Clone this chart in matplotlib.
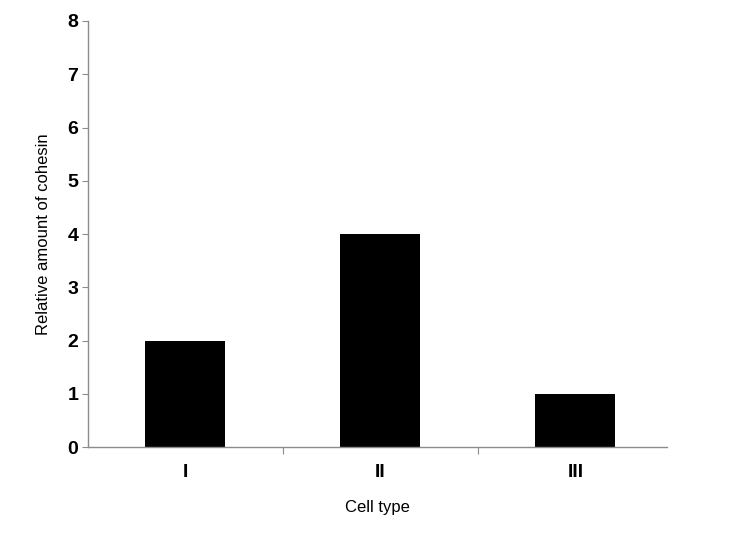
import numpy as np
import matplotlib
matplotlib.use("Agg")
import matplotlib.pyplot as plt

cell_types = ["I", "II", "III"]
cohesin = [2, 4, 1]
y_ticks = [0, 1, 2, 3, 4, 5, 6, 7, 8]

plt.rcParams['font.family'] = ['Liberation Sans', 'DejaVu Sans']

fig = plt.figure(figsize=(7.33, 5.38), dpi=100)
ax = fig.add_axes([0.12, 0.169, 0.79, 0.792])

x = np.arange(len(cell_types))
ax.bar(x, cohesin, width=0.41, color='black')

ax.set_xlim(-0.5, 2.47)
ax.set_ylim(0, 8)

ax.spines['top'].set_visible(False)
ax.spines['right'].set_visible(False)
for s in ['left', 'bottom']:
    ax.spines[s].set_color('#8c8c8c')
    ax.spines[s].set_linewidth(1.0)

ax.set_yticks(y_ticks)
ax.set_yticklabels([str(v) for v in y_ticks], fontweight='bold', fontsize=14)
ax.tick_params(axis='y', length=4, width=0.8, color='#8c8c8c', pad=3)

ax.set_xticks(x)
ax.set_xticklabels(cell_types, fontweight='bold', fontsize=14)
ax.tick_params(axis='x', which='major', length=0, pad=12)
ax.set_xticks(x[:-1] + 0.5, minor=True)
ax.tick_params(axis='x', which='minor', length=5, width=0.8, color='#8c8c8c', direction='out')

ax.set_ylabel("Relative amount of cohesin", fontsize=12, labelpad=12)
ax.set_xlabel("Cell type", fontsize=12, labelpad=14)

fig.savefig("out.png", dpi=100)
